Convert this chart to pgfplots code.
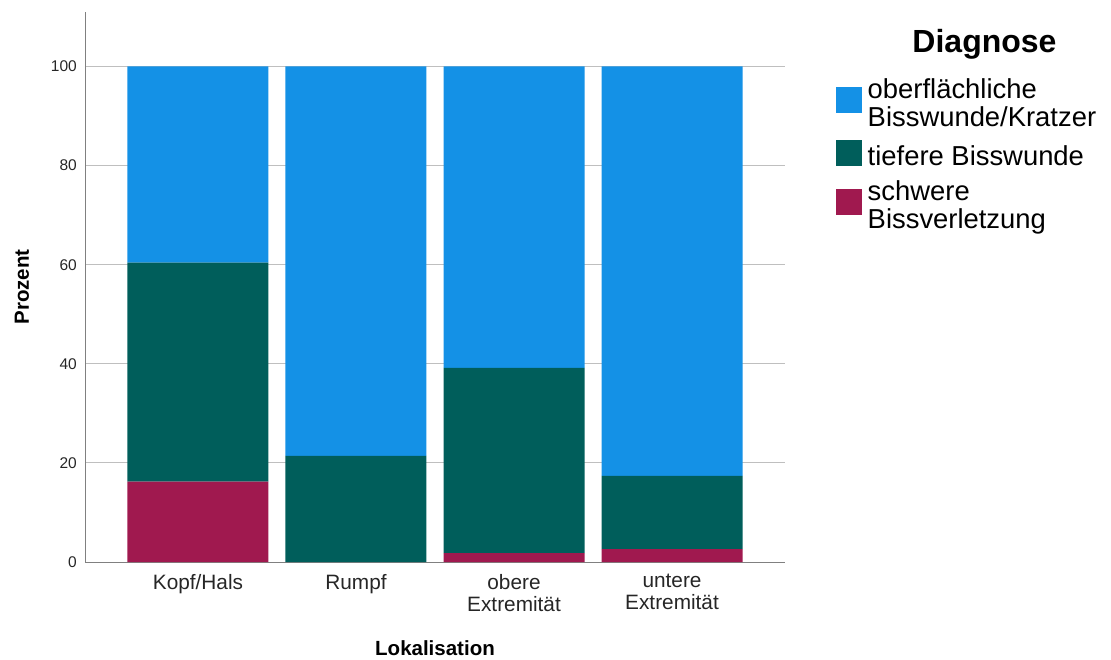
\documentclass[border=0pt]{standalone}
\usepackage{fontspec}
\setmainfont{Liberation Sans}
\usepackage{pgfplots}
\pgfplotsset{compat=1.18}
\definecolor{cblue}{HTML}{1491E6}
\definecolor{cgreen}{HTML}{005E5B}
\definecolor{cred}{HTML}{A0194F}
\pgfplotsset{sq legend/.style={legend image code/.code={\fill[##1] (0pt,-10pt) rectangle (26pt,16pt);}}}
\begin{document}
\begin{tikzpicture}
\useasboundingbox (0,0) rectangle (1111pt,659pt);
\begin{axis}[
  at={(85pt,97pt)}, anchor=south west,
  scale only axis, width=700pt, height=550pt,
  ybar stacked, bar width=141pt,
  xmin=-0.715, xmax=3.715, ymin=0, ymax=111,
  xtick={0,1,2,3},
  xticklabels={Kopf/Hals, Rumpf, obere\\Extremität, untere\\Extremität},
  ytick={0,20,40,60,80,100},
  /pgf/number format/assume math mode=true,
  major tick length=0pt,
  axis x line*=bottom, axis y line*=left,
  axis line style={-, draw=black!50, line width=1pt},
  ymajorgrids, major grid style={draw=black!25, line width=1pt},
  yticklabel style={anchor=east, inner sep=0pt, xshift=-8pt, font=\fontsize{15.5}{17}\selectfont, text=black!85},
  xticklabel style={anchor=north, inner sep=0pt, yshift=-12pt, align=center, font=\fontsize{20.8}{22}\selectfont, text=black!85},
  ylabel={Prozent}, xlabel={Lokalisation},
  every axis y label/.style={at={(axis description cs:-0.09,0.5)}, rotate=90, anchor=center, font=\bfseries\fontsize{20.5}{22}\selectfont},
  every axis x label/.style={at={(axis description cs:0.5,-0.157)}, anchor=center, font=\bfseries\fontsize{20.5}{22}\selectfont},
  legend style={at={(axis description cs:1.0729,0.883)}, anchor=north west, draw=none, fill=none,
    inner sep=0pt, font=\fontsize{27.4}{28}\selectfont, row sep=10pt, column sep=3.5pt,
    cells={anchor=west, align=left, inner sep=0pt}},
  reverse legend,
]
\addplot+[fill=cred, draw=none, sq legend] coordinates {(0,16.2) (1,0) (2,1.8) (3,2.6)};
\addlegendentry{schwere\\Bissverletzung}
\addplot+[fill=cgreen, draw=none, sq legend] coordinates {(0,44.2) (1,21.4) (2,37.4) (3,14.8)};
\addlegendentry{tiefere Bisswunde}
\addplot+[fill=cblue, draw=none, sq legend] coordinates {(0,39.6) (1,78.6) (2,60.8) (3,82.6)};
\addlegendentry{oberflächliche\\Bisswunde/Kratzer}
\end{axis}
\node[anchor=base, font=\bfseries\fontsize{32}{34}\selectfont] at (984.5pt,606pt) {Diagnose};
\end{tikzpicture}
\end{document}
